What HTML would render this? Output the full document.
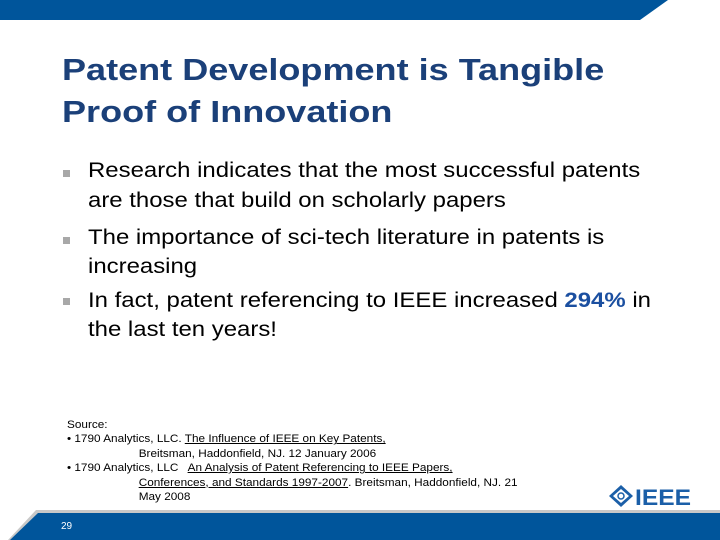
<!DOCTYPE html>
<html><head><meta charset="utf-8"><style>
html,body{margin:0;padding:0;}
body{width:720px;height:540px;position:relative;overflow:hidden;background:#fff;font-family:"Liberation Sans",Arial,sans-serif;}
.abs{position:absolute;}
.title{left:62px;top:49px;font-size:31px;font-weight:bold;color:#1b4079;line-height:42px;white-space:nowrap;transform-origin:0 0;transform:scaleX(1.163);}
.body{left:88px;font-size:21px;color:#000;line-height:30px;white-space:nowrap;transform-origin:0 0;transform:scaleX(1.14);}
.bul{position:absolute;width:7px;height:7px;background:#a8a8a8;left:63px;}
.src{left:67px;top:418px;font-size:11px;line-height:14.4px;color:#000;white-space:nowrap;transform-origin:0 0;transform:scaleX(1.07);}
.src u{text-decoration:underline;}
</style></head><body>
<svg class="abs" style="left:0;top:0" width="720" height="540">
  <polygon points="0,0 668,0 640,20 0,20" fill="#00559b"/>
  <polygon points="36,510 720,510 720,540 8,540" fill="#c8c8c8"/>
  <polygon points="38,513 720,513 720,540 10,540" fill="#00559b"/>
</svg>
<div class="abs title">Patent Development is Tangible<br>Proof of Innovation</div>
<div class="bul" style="top:170px"></div>
<div class="bul" style="top:237px"></div>
<div class="bul" style="top:298px"></div>
<div class="abs body" style="top:156px">Research indicates that the most successful patents<br>are those that build on scholarly papers</div>
<div class="abs body" style="top:223px;line-height:29px">The importance of sci-tech literature in patents is<br>increasing</div>
<div class="abs body" style="top:286px;line-height:29px">In fact, patent referencing to IEEE increased <b style="color:#1b4fa0">294%</b> in<br>the last ten years!</div>
<div class="abs src">Source:<br>
&bull; 1790 Analytics, LLC. <u>The Influence of IEEE on Key Patents,</u><br>
<span style="padding-left:67px">Breitsman, Haddonfield, NJ. 12 January 2006</span><br>
&bull; 1790 Analytics, LLC &nbsp; <u>An Analysis of Patent Referencing to IEEE Papers,</u><br>
<span style="padding-left:67px"><u>Conferences, and Standards 1997-2007</u>. Breitsman, Haddonfield, NJ. 21</span><br>
<span style="padding-left:67px">May 2008</span></div>
<svg class="abs" style="left:608px;top:484px" width="90" height="26">
  <polygon points="13,1 25,12 13,23 1,12" fill="#1b5fa8"/>
  <polygon points="13,5 21,12 13,19 5,12" fill="#fff"/>
  <circle cx="13" cy="12" r="3" fill="none" stroke="#1b5fa8" stroke-width="1.5"/>
  <text x="27" y="21" font-family="Liberation Sans" font-weight="bold" font-size="22" fill="#1b5fa8" textLength="56" lengthAdjust="spacingAndGlyphs">IEEE</text>
</svg>
<div class="abs" style="left:61px;top:521px;font-size:10px;color:#fff">29</div>
</body></html>
